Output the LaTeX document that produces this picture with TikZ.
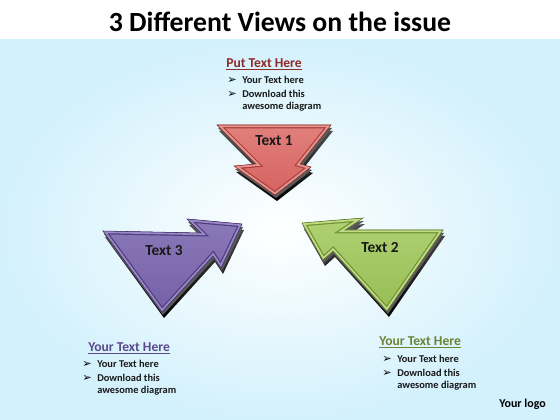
\documentclass[tikz,border=0pt]{standalone}
\usepackage{fontspec}
\setmainfont{Carlito}
\newfontfamily\bulletfont{DejaVu Sans}
\definecolor{bgblue}{HTML}{D3F1FC}
\definecolor{redF}{HTML}{D6625F}
\definecolor{redL}{HTML}{E99590}
\definecolor{redD}{HTML}{A8403E}
\definecolor{purF}{HTML}{7560A6}
\definecolor{purL}{HTML}{9A89C6}
\definecolor{purD}{HTML}{4F3C7E}
\definecolor{grnF}{HTML}{96BE55}
\definecolor{grnL}{HTML}{C2DC86}
\definecolor{grnD}{HTML}{6E9233}
\definecolor{hred}{HTML}{8E2A2A}
\definecolor{hpur}{HTML}{5A4A8C}
\definecolor{hgrn}{HTML}{6F8236}
\tikzset{
  ext/.style={top color=gray!60!black, bottom color=black},
  lbl/.style={font=\fontsize{11.5}{13}\selectfont\bfseries, text=black!90},
  head/.style={font=\fontsize{10.2}{12}\selectfont\bfseries, anchor=west, inner sep=0pt},
  body/.style={font=\fontsize{7.8}{10}\selectfont\bfseries, anchor=west, inner sep=0pt, text=black!90},
  bul/.style={font=\bulletfont\fontsize{8.5}{9}\selectfont, anchor=west, inner sep=0pt, text=black}
}
\newcommand{\redpath}{(217,125)--(331,125)--(300,164)--(311,167)--(275,195)--(234,166)--(256,164)--cycle}
\newcommand{\purpath}{(103,231)--(201,233)--(187,219)--(242,224)--(221,268)--(213,256)--(162,312)--cycle}
\newcommand{\grnpath}{(443,230)--(345,230)--(363,218)--(302,223)--(323,260)--(333,251)--(387,311)--cycle}
\newcommand{\arrowface}[4]{%
  \begin{scope}[shift={(2,6)}]\shade[ext] #1;\end{scope}
  \begin{scope}[shift={(1,3)}]\fill[gray!70!black] #1;\end{scope}
  \shade[top color=#3!60!#2, bottom color=#2] #1;
  \begin{scope}
    \clip #1;
    \draw[#4, line width=5pt, line join=miter] #1;
    \draw[#3, line width=3.2pt, line join=miter] #1;
  \end{scope}
  \draw[#4!80!black, line width=0.4pt] #1;
}
\begin{document}
\begin{tikzpicture}[x=0.75pt,y=-0.75pt]
\useasboundingbox (0,0) rectangle (560,420);
\fill[white] (0,0) rectangle (560,40);
\shade[inner color=white, outer color=bgblue] (0,40) rectangle (560,420);
\node (title) at (280,22) {\fontsize{20.8}{24}\selectfont\bfseries 3 Different Views on the issue};
\arrowface{\redpath}{redF}{redL}{redD}
\arrowface{\purpath}{purF}{purL}{purD}
\arrowface{\grnpath}{grnF}{grnL}{grnD}
\node[lbl] (t1) at (274,141) {Text 1};
\node[lbl] (t3) at (164,251) {Text 3};
\node[lbl] (t2) at (380,248) {Text 2};
\node[head, text=hred] (h1) at (226,64) {\underline{Put Text Here}};
\node[bul] (b1a) at (227,80) {➢};
\node[body] (l1a) at (242,80) {Your Text here};
\node[bul] (b1b) at (227,94) {➢};
\node[body] (l1b) at (242,94) {Download this};
\node[body] (l1c) at (242,107) {awesome diagram};
\node[head, text=hpur] (h3) at (88,348) {\underline{Your Text Here}};
\node[bul] (b3a) at (82,364) {➢};
\node[body] (l3a) at (97,364) {Your Text here};
\node[bul] (b3b) at (82,378) {➢};
\node[body] (l3b) at (97,378) {Download this};
\node[body] (l3c) at (97,391) {awesome diagram};
\node[head, text=hgrn] (h2) at (379,342) {\underline{Your Text Here}};
\node[bul] (b2a) at (382,359) {➢};
\node[body] (l2a) at (397,359) {Your Text here};
\node[bul] (b2b) at (382,373) {➢};
\node[body] (l2b) at (397,373) {Download this};
\node[body] (l2c) at (397,386) {awesome diagram};
\node[anchor=west, inner sep=0pt, font=\fontsize{9}{11}\selectfont\bfseries] (logo) at (499,404) {Your logo};
\end{tikzpicture}
\end{document}
